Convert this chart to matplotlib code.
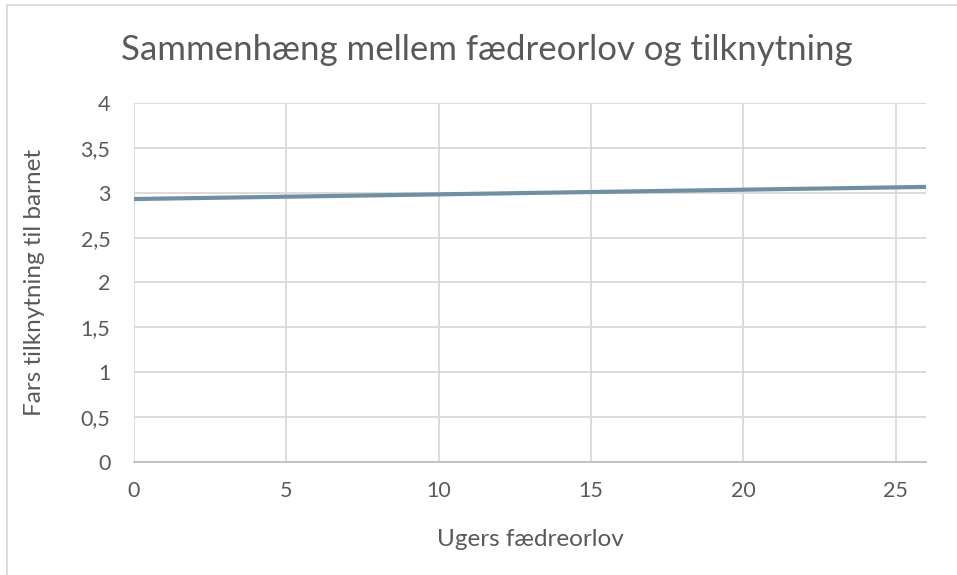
import matplotlib
matplotlib.use("Agg")
from matplotlib import pyplot as plt
from matplotlib.patches import Rectangle

plt.rcParams['font.family'] = ['Lato', 'DejaVu Sans']

# trend line: weeks of paternity leave vs. father's attachment
weeks = [0, 26]
attachment = [2.93, 3.065]

x_ticks = [0, 5, 10, 15, 20, 25]
y_ticks = [0, 0.5, 1, 1.5, 2, 2.5, 3, 3.5, 4]

text_col = '#595959'
grid_col = '#D9D9D9'

fig = plt.figure(figsize=(9.57, 5.75), dpi=100)
ax = fig.add_axes([0.14, 0.1965, 0.8276, 0.6244])

ax.plot(weeks, attachment, color='#6F8FA3', linewidth=3, solid_capstyle='butt', zorder=3)

ax.set_xlim(0, 26)
ax.set_ylim(0, 4)
ax.set_xticks(x_ticks)
ax.set_yticks(y_ticks)
ax.set_yticklabels([('%g' % v).replace('.', ',') for v in y_ticks])
ax.grid(True, color=grid_col, linewidth=1.3)
ax.set_axisbelow(True)
ax.tick_params(length=0, labelsize=15.5, labelcolor=text_col)
ax.tick_params(axis='y', pad=17)
ax.tick_params(axis='x', pad=14)

for side in ['top', 'right', 'left']:
    ax.spines[side].set_visible(False)
ax.spines['bottom'].set_color('#BFBFBF')
ax.spines['bottom'].set_linewidth(1.3)

ax.set_xlabel('Ugers fædreorlov', fontsize=17.5, color=text_col, va='center')
ax.set_ylabel('Fars tilknytning til barnet', fontsize=17.5, color=text_col, va='center')
ax.xaxis.set_label_coords(0.5, -0.215)
ax.yaxis.set_label_coords(-0.125, 0.5)
fig.text(0.509, 0.913, 'Sammenhæng mellem fædreorlov og tilknytning',
         fontsize=25, color=text_col, ha='center', va='center')

# chart frame (only left and top edges fall inside the figure)
fig.patches.append(Rectangle((0.0073, -0.05), 1.1, 1.0413, transform=fig.transFigure,
                             fill=False, edgecolor=grid_col, linewidth=1.3))

fig.savefig('out.png', dpi=100)
